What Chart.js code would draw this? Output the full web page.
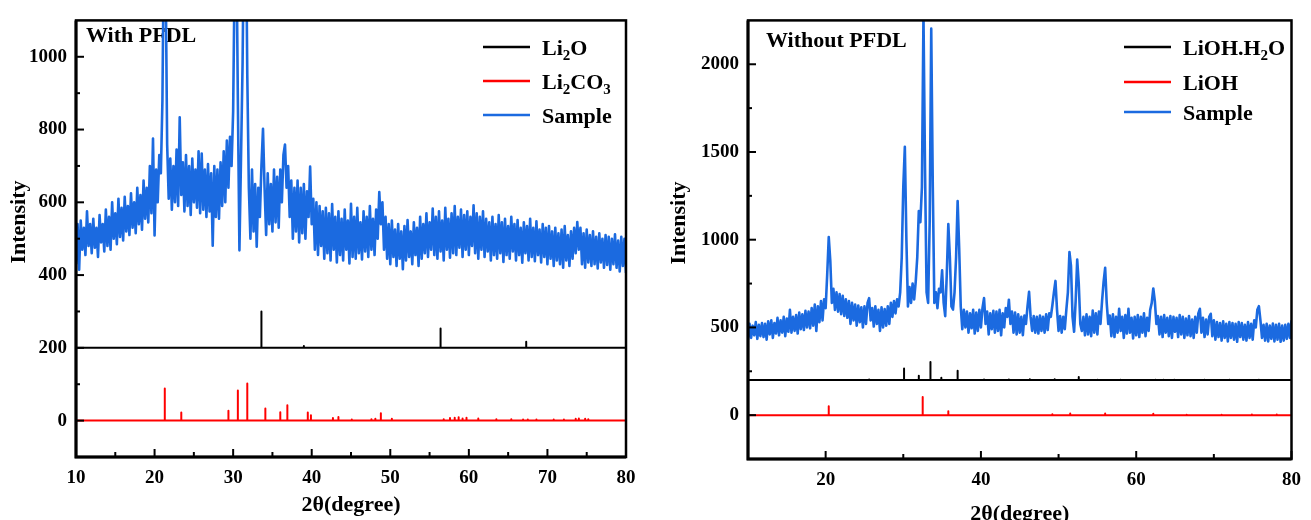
<!DOCTYPE html>
<html>
<head>
<meta charset="utf-8">
<script src="https://cdn.jsdelivr.net/npm/chart.js@4.4.1/dist/chart.umd.min.js"></script>
<style>
  html, body { margin: 0; padding: 0; background: #fff; }
  #wrap { position: relative; width: 1311px; height: 520px; }
  canvas { position: absolute; top: 0; }
  #left { left: 0; }
  #right { left: 655px; }
</style>
</head>
<body>
<div id="wrap">
  <canvas id="left" width="655" height="520"></canvas>
  <canvas id="right" width="656" height="520"></canvas>
</div>
<script>
// sampling grid of the measured patterns (2theta, degrees)
const THETA_START = 10;
const THETA_STEP = 0.2;

// ---- With PFDL ----
const withSample = [
  430, 540, 415, 550, 470, 530, 455, 575, 480, 540,   // 10
  460, 555, 475, 530, 450, 565, 490, 540, 465, 580,   // 12
  480, 560, 470, 600, 500, 570, 485, 610, 505, 585,   // 14
  495, 615, 520, 590, 510, 625, 530, 600, 515, 640,   // 16
  540, 620, 525, 660, 555, 640, 545, 700, 570, 775,   // 18
  509, 690, 600, 730, 680, 880, 1350, 1250, 760, 610, // 20
  720, 580, 700, 600, 745, 590, 834, 620, 710, 575,   // 22
  730, 590, 700, 565, 720, 600, 690, 585, 740, 570,   // 24
  734, 580, 690, 560, 705, 575, 680, 481, 700, 560,   // 26
  690, 555, 710, 590, 740, 600, 770, 640, 780, 700,   // 28
  850, 1250, 1350, 880, 468, 720, 980, 1400, 1450, 950, // 30
  640, 500, 690, 520, 650, 478, 640, 560, 700, 802,   // 32
  640, 510, 680, 540, 650, 520, 690, 545, 670, 530,   // 34
  690, 600, 730, 759, 640, 700, 560, 660, 500, 640,   // 36
  520, 660, 490, 640, 515, 650, 500, 630, 560, 698,   // 38
  540, 610, 470, 600, 455, 590, 480, 575, 445, 585,   // 40
  460, 570, 440, 595, 470, 560, 435, 575, 455, 555,   // 42
  440, 580, 470, 550, 432, 596, 450, 560, 445, 585,   // 44
  460, 545, 443, 575, 465, 560, 450, 590, 470, 555,   // 46
  455, 580, 500, 628, 540, 600, 470, 560, 445, 540,   // 48
  430, 550, 450, 525, 425, 540, 445, 520, 416, 535,   // 50
  440, 551, 450, 520, 430, 545, 455, 530, 425, 560,   // 52
  445, 540, 460, 570, 450, 545, 470, 583, 455, 560,   // 54
  445, 575, 465, 550, 440, 585, 470, 555, 448, 570,   // 56
  460, 590, 455, 560, 475, 580, 450, 565, 470, 575,   // 58
  455, 560, 480, 592, 460, 570, 445, 560, 470, 575,   // 60
  450, 555, 465, 545, 440, 560, 455, 540, 445, 565,   // 62
  460, 545, 436, 555, 455, 535, 445, 560, 465, 540,   // 64
  440, 551, 455, 530, 434, 545, 460, 535, 440, 555,   // 66
  450, 530, 438, 548, 455, 525, 435, 540, 450, 530,   // 68
  430, 535, 445, 520, 425, 530, 440, 515, 430, 525,   // 70
  420, 535, 440, 510, 425, 520, 445, 530, 460, 546,   // 72
  470, 530, 430, 515, 420, 525, 435, 510, 425, 520,   // 74
  430, 505, 418, 515, 435, 500, 420, 510, 428, 505,   // 76
  415, 500, 430, 512, 420, 495, 410, 505, 425, 500,   // 78
  406                                                 // 80
];
const li2oPos = [33.6, 39.0, 56.4, 67.3];
const li2oInt = [100, 5, 53, 17];
const li2co3Pos = [21.3, 23.4, 29.4, 30.6, 31.8, 34.1, 36.0, 36.9, 39.5, 39.9, 42.7, 43.4, 45.1, 47.6, 48.1, 48.8,
  50.2, 56.8, 57.6, 58.2, 58.7, 59.2, 59.7, 61.2, 63.5, 65.4, 66.9, 67.5, 68.6, 70.8, 72.1, 73.6, 74.0, 74.8, 75.2];
const li2co3Int = [88, 22, 27, 83, 102, 33, 23, 42, 22, 15, 7, 10, 3, 4, 5, 20,
  5, 4, 7, 8, 9, 6, 8, 6, 4, 4, 3, 3, 3, 3, 3, 5, 6, 5, 4];

// ---- Without PFDL ----
const withoutSample = [
  430, 520, 440, 510, 455, 530, 435, 515, 450, 525,   // 10
  445, 520, 430, 535, 460, 540, 440, 525, 465, 555,   // 12
  455, 540, 470, 560, 450, 550, 475, 600, 470, 560,   // 14
  480, 570, 465, 585, 490, 575, 485, 595, 500, 590,   // 16
  495, 610, 510, 630, 480, 620, 530, 650, 540, 660,   // 18
  610, 800, 1015, 880, 640, 720, 600, 700, 590, 690,  // 20
  575, 680, 565, 660, 555, 650, 520, 640, 540, 630,   // 22
  510, 625, 530, 615, 500, 620, 520, 640, 667, 540,   // 24
  610, 505, 620, 520, 600, 480, 615, 500, 605, 510,   // 26
  620, 520, 640, 560, 650, 580, 660, 620, 700, 900,   // 28
  1300, 1529, 1000, 620, 730, 640, 750, 660, 760, 900, // 30
  1164, 1100, 1300, 2280, 1400, 700, 640, 1100, 2203, 1300, // 32
  640, 700, 610, 720, 700, 826, 640, 564, 800, 1089,  // 34
  900, 620, 602, 700, 900, 1220, 950, 620, 490, 600,  // 36
  500, 590, 470, 580, 495, 600, 465, 585, 480, 600,   // 38
  500, 610, 667, 520, 590, 460, 580, 490, 595, 470,   // 40
  590, 480, 600, 455, 580, 500, 610, 560, 658, 520,   // 42
  590, 470, 585, 460, 575, 470, 560, 456, 568, 520,   // 44
  620, 703, 560, 480, 565, 470, 560, 465, 568, 480,   // 46
  560, 470, 575, 485, 580, 560, 625, 700, 765, 600,   // 48
  480, 565, 470, 560, 490, 600, 700, 930, 850, 560,   // 50
  475, 650, 887, 750, 520, 480, 560, 455, 575, 460,   // 52
  560, 450, 596, 470, 580, 460, 590, 520, 650, 760,   // 54
  840, 640, 520, 568, 450, 575, 445, 560, 470, 606,   // 56
  480, 560, 440, 570, 465, 606, 470, 555, 437, 560,   // 58
  455, 570, 445, 560, 470, 580, 450, 555, 480, 600,   // 60
  640, 722, 650, 520, 565, 460, 560, 445, 570, 470,   // 62
  555, 450, 565, 440, 560, 475, 555, 445, 570, 460,   // 64
  560, 440, 550, 455, 565, 450, 545, 440, 560, 470,   // 66
  580, 606, 470, 555, 445, 545, 460, 560, 578, 450,   // 68
  540, 430, 530, 445, 525, 425, 535, 440, 520, 420,   // 70
  530, 440, 525, 430, 520, 418, 530, 445, 525, 430,   // 72
  515, 425, 530, 440, 520, 430, 540, 500, 600, 621,   // 74
  540, 440, 515, 425, 520, 420, 510, 435, 522, 420,   // 76
  515, 430, 520, 418, 510, 425, 515, 435, 520, 440,   // 78
  540                                                 // 80
];
const liohH2oPos = [25.6, 30.1, 32.0, 33.5, 34.9, 37.0, 40.4, 43.6, 46.3, 49.5, 52.6, 55.0, 58.0, 62.5, 63.5, 64.9, 68.8, 72.0, 75.8];
const liohH2oInt = [3, 66, 25, 103, 13, 53, 3, 3, 4, 5, 18, 2, 2, 2, 2, 2, 2, 2, 2];
const liohPos = [20.4, 32.5, 35.8, 49.2, 51.5, 56.0, 62.2, 66.5, 71.0, 74.9, 78.1];
const liohInt = [50, 103, 22, 5, 10, 10, 8, 2, 2, 3, 3];

// reference patterns are stacked on these baselines
const REF_TOP_BASE = 200;
const REF_BOTTOM_BASE = 0;

// axis ticks
const withXLabels = [10, 20, 30, 40, 50, 60, 70, 80];
const withXMinor = [15, 25, 35, 45, 55, 65, 75];
const withYLabels = [0, 200, 400, 600, 800, 1000];
const withYMinor = [100, 300, 500, 700, 900];
const withoutXLabels = [20, 40, 60, 80];
const withoutXMinor = [10, 30, 50, 70];
const withoutYLabels = [0, 500, 1000, 1500, 2000];
const withoutYMinor = [250, 750, 1250, 1750];

const SERIF = "'Liberation Serif', 'Times New Roman', serif";
const BLUE = "#1b6ae0";

function sampleToPoints(values) {
  return values.map((v, i) => ({ x: THETA_START + i * THETA_STEP, y: v }));
}

function sticksToPoints(pos, heights, base) {
  const pts = [{ x: 10, y: base }];
  pos.forEach((p, i) => {
    pts.push({ x: p, y: base }, { x: p, y: base + heights[i] }, { x: p, y: base });
  });
  pts.push({ x: 80, y: base });
  return pts;
}

function drawRich(ctx, parts, x, y) {
  parts.forEach(([text, sub]) => {
    ctx.font = sub ? `bold 15px ${SERIF}` : `bold 22px ${SERIF}`;
    ctx.fillText(text, x, sub ? y + 5 : y);
    x += ctx.measureText(text).width;
  });
}

const panelDecor = {
  id: "panelDecor",
  beforeDatasetsDraw(chart, args, o) {
    const { ctx, chartArea: a } = chart;
    ctx.save();
    ctx.fillStyle = "#000";
    ctx.textAlign = "left";
    ctx.textBaseline = "alphabetic";
    ctx.font = `bold 22px ${SERIF}`;
    ctx.fillText(o.label, a.left + o.labelDx, o.labelY);
    ctx.restore();
  },
  afterDatasetsDraw(chart, args, o) {
    const { ctx, chartArea: a, scales: { x, y } } = chart;
    ctx.save();
    ctx.strokeStyle = "#000";
    ctx.lineWidth = 2;
    const tick = (v, len, horiz) => {
      ctx.beginPath();
      if (horiz) {
        const px = x.getPixelForValue(v);
        ctx.moveTo(px, a.bottom);
        ctx.lineTo(px, a.bottom - len);
      } else {
        const py = y.getPixelForValue(v);
        ctx.moveTo(a.left, py);
        ctx.lineTo(a.left + len, py);
      }
      ctx.stroke();
    };
    o.xMajor.forEach(v => tick(v, 8, true));
    o.xMinor.forEach(v => tick(v, 5, true));
    o.yMajor.forEach(v => tick(v, 8, false));
    o.yMinor.forEach(v => tick(v, 4, false));

    // frame
    ctx.lineWidth = 2.5;
    ctx.strokeRect(a.left, a.top, a.right - a.left, a.bottom - a.top);
    ctx.lineWidth = 3;
    ctx.beginPath();
    ctx.moveTo(a.left, a.top);
    ctx.lineTo(a.left, a.bottom);
    ctx.lineTo(a.right, a.bottom);
    ctx.stroke();

    // legend
    ctx.fillStyle = "#000";
    ctx.textAlign = "left";
    ctx.textBaseline = "alphabetic";
    o.legend.forEach((item, i) => {
      const cy = o.legendY[i];
      ctx.strokeStyle = item.color;
      ctx.lineWidth = 2.5;
      ctx.beginPath();
      ctx.moveTo(o.legendX, cy);
      ctx.lineTo(o.legendX + 47, cy);
      ctx.stroke();
      drawRich(ctx, item.parts, o.legendX + 59, cy + 7.5);
    });

    // axis titles
    ctx.font = `bold 22px ${SERIF}`;
    ctx.textAlign = "center";
    ctx.textBaseline = "middle";
    ctx.fillText("2\u03b8(degree)", (a.left + a.right) / 2, o.xTitleY);
    ctx.translate(o.yTitleX, o.yTitleY);
    ctx.rotate(-Math.PI / 2);
    ctx.fillText("Intensity", 0, 0);
    ctx.restore();
  }
};

function makePanel(canvasId, cfg) {
  const tickFont = { family: SERIF, size: 19, weight: "bold" };
  return new Chart(document.getElementById(canvasId), {
    type: "line",
    data: {
      datasets: [
        { label: "Sample", data: sampleToPoints(cfg.sample), borderColor: BLUE, borderWidth: cfg.sampleWidth },
        { label: cfg.topName, data: sticksToPoints(cfg.topPos, cfg.topInt, REF_TOP_BASE), borderColor: "#000", borderWidth: 2 },
        { label: cfg.bottomName, data: sticksToPoints(cfg.bottomPos, cfg.bottomInt, REF_BOTTOM_BASE), borderColor: "#ff0000", borderWidth: 2 }
      ]
    },
    options: {
      responsive: false,
      animation: false,
      events: [],
      layout: { padding: { top: 14, right: cfg.padRight, left: 0, bottom: 0 } },
      elements: { point: { radius: 0 }, line: { tension: 0, borderJoinStyle: "round" } },
      plugins: {
        legend: { display: false },
        tooltip: { enabled: false },
        panelDecor: cfg.decor
      },
      scales: {
        x: {
          type: "linear",
          min: 10,
          max: 80,
          afterFit: s => { s.height = cfg.xHeight; },
          afterBuildTicks: s => {
            s.ticks = [...cfg.decor.xMajor, ...cfg.decor.xMinor].sort((p, q) => p - q).map(v => ({ value: v }));
          },
          grid: { display: false, drawTicks: false },
          border: { display: false },
          ticks: {
            autoSkip: false,
            maxRotation: 0,
            padding: 10,
            color: "#000",
            font: tickFont,
            callback: v => (cfg.xLabels.includes(v) ? String(v) : "")
          }
        },
        y: {
          type: "linear",
          min: cfg.yMin,
          max: cfg.yMax,
          afterFit: s => { s.width = cfg.yWidth; },
          afterBuildTicks: s => {
            s.ticks = [...cfg.decor.yMajor, ...cfg.decor.yMinor].sort((p, q) => p - q).map(v => ({ value: v }));
          },
          grid: { display: false, drawTicks: false },
          border: { display: false },
          ticks: {
            autoSkip: false,
            padding: 9,
            color: "#000",
            font: tickFont,
            callback: v => (cfg.yLabels.includes(v) ? String(v) : "")
          }
        }
      }
    },
    plugins: [panelDecor]
  });
}

makePanel("left", {
  sample: withSample,
  sampleWidth: 2.6,
  topName: "Li2O", topPos: li2oPos, topInt: li2oInt,
  bottomName: "Li2CO3", bottomPos: li2co3Pos, bottomInt: li2co3Int,
  yMin: -100, yMax: 1100,
  xLabels: withXLabels, yLabels: withYLabels,
  padRight: 29, xHeight: 63, yWidth: 76,
  decor: {
    label: "With PFDL", labelDx: 10, labelY: 42,
    xMajor: withXLabels, xMinor: withXMinor, yMajor: withYLabels, yMinor: withYMinor,
    legendX: 483, legendY: [47, 81, 115],
    legend: [
      { color: "#000", parts: [["Li"], ["2", true], ["O"]] },
      { color: "#ff0000", parts: [["Li"], ["2", true], ["CO"], ["3", true]] },
      { color: BLUE, parts: [["Sample"]] }
    ],
    xTitleY: 505, yTitleX: 19, yTitleY: 222
  }
});

makePanel("right", {
  sample: withoutSample,
  sampleWidth: 2.6,
  topName: "LiOH.H2O", topPos: liohH2oPos, topInt: liohH2oInt,
  bottomName: "LiOH", bottomPos: liohPos, bottomInt: liohInt,
  yMin: -250, yMax: 2250,
  xLabels: withoutXLabels, yLabels: withoutYLabels,
  padRight: 11, xHeight: 61, yWidth: 93,
  decor: {
    label: "Without PFDL", labelDx: 18, labelY: 47,
    xMajor: withoutXLabels, xMinor: withoutXMinor, yMajor: withoutYLabels, yMinor: withoutYMinor,
    legendX: 469, legendY: [47, 82, 112],
    legend: [
      { color: "#000", parts: [["LiOH.H"], ["2", true], ["O"]] },
      { color: "#ff0000", parts: [["LiOH"]] },
      { color: BLUE, parts: [["Sample"]] }
    ],
    xTitleY: 514, yTitleX: 24, yTitleY: 223
  }
});
</script>
</body>
</html>
